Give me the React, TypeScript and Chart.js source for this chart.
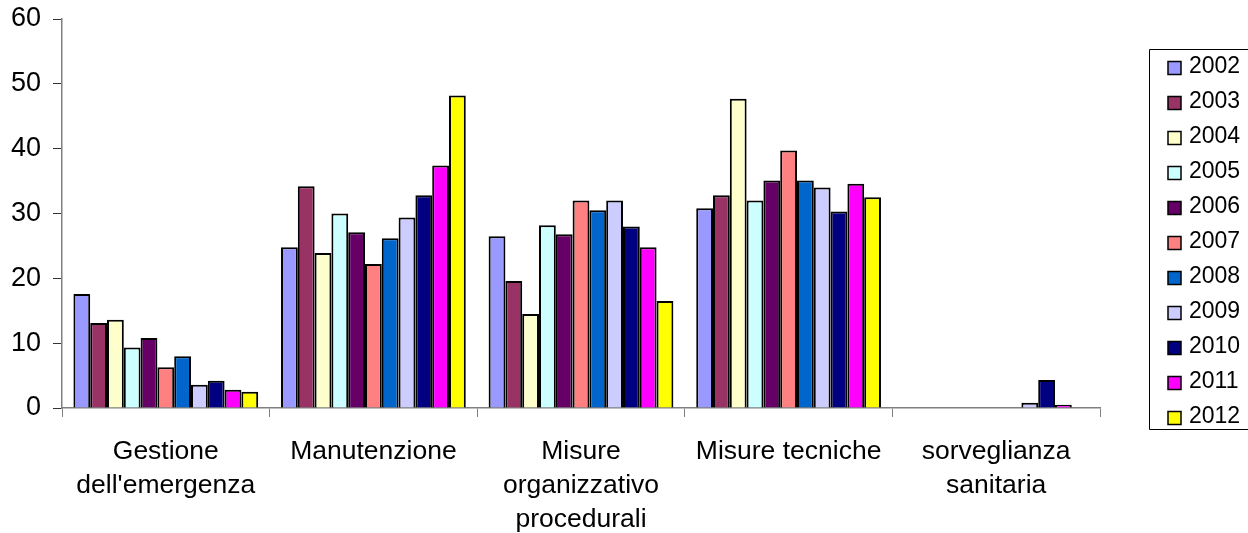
import React, { useEffect, useRef } from "react";
import { Chart, registerables } from "chart.js";

Chart.register(...registerables);

const categories: (string | string[])[] = [
  ["Gestione", "dell'emergenza"],
  "Manutenzione",
  ["Misure", "organizzativo", "procedurali"],
  "Misure tecniche",
  ["sorveglianza", "sanitaria"],
];

const years = ["2002", "2003", "2004", "2005", "2006", "2007", "2008", "2009", "2010", "2011", "2012"];

const v2002 = [17.6, 24.8, 26.5, 30.8, 0];
const v2003 = [13.1, 34.2, 19.6, 32.8, 0];
const v2004 = [13.6, 23.9, 14.5, 47.7, 0];
const v2005 = [9.35, 30.0, 28.2, 32.0, 0];
const v2006 = [10.8, 27.1, 26.8, 35.1, 0];
const v2007 = [6.3, 22.2, 32.0, 39.7, 0];
const v2008 = [8.0, 26.2, 30.5, 35.1, 0];
const v2009 = [3.6, 29.4, 32.0, 34.0, 0.8];
const v2010 = [4.2, 32.8, 28.0, 30.3, 4.3];
const v2011 = [2.8, 37.4, 24.8, 34.6, 0.5];
const v2012 = [2.5, 48.2, 16.5, 32.5, 0];

const seriesValues = [v2002, v2003, v2004, v2005, v2006, v2007, v2008, v2009, v2010, v2011, v2012];

const colors = [
  "#9999FF", "#993366", "#FFFFCC", "#CCFFFF", "#660066", "#FF8080",
  "#0066CC", "#CCCCFF", "#000080", "#FF00FF", "#FFFF00",
];

const yTicks = [0, 10, 20, 30, 40, 50, 60];

const FONT = "'Liberation Sans', Arial, sans-serif";

const boxedLegend = {
  id: "boxedLegend",
  afterDraw(chart: any) {
    const { ctx, chartArea } = chart;
    const left = chartArea.right + 49.5;
    const top = chartArea.top + 30.5;
    const bottom = top + 380;
    ctx.save();
    ctx.strokeStyle = "#000";
    ctx.lineWidth = 1;
    ctx.beginPath();
    ctx.moveTo(chart.width + 5, top);
    ctx.lineTo(left, top);
    ctx.lineTo(left, bottom);
    ctx.lineTo(chart.width + 5, bottom);
    ctx.stroke();
    ctx.font = `23px ${FONT}`;
    ctx.textBaseline = "alphabetic";
    ctx.textAlign = "left";
    chart.data.datasets.forEach((ds: any, i: number) => {
      const base = top + 23 + i * 35;
      const bx = left + 18.5;
      const by = base - 11;
      ctx.fillStyle = ds.backgroundColor;
      ctx.fillRect(bx, by, 13, 13);
      ctx.lineWidth = 1.5;
      ctx.strokeStyle = "#000";
      ctx.strokeRect(bx, by, 13, 13);
      ctx.fillStyle = "#000";
      ctx.fillText(ds.label, left + 39.5, base);
    });
    ctx.restore();
  },
};

export default function App() {
  const ref = useRef<HTMLCanvasElement | null>(null);

  useEffect(() => {
    if (!ref.current) return;
    const chart = new Chart(ref.current, {
      type: "bar",
      data: {
        labels: categories,
        datasets: years.map((y, i) => ({
          label: y,
          data: seriesValues[i],
          backgroundColor: colors[i],
          borderColor: "#000",
          borderWidth: 2,
          categoryPercentage: 0.89,
          barPercentage: 1.0,
        })),
      },
      options: {
        animation: false,
        responsive: true,
        maintainAspectRatio: false,
        layout: { padding: { top: 19, right: 148, left: 0, bottom: 0 } },
        plugins: {
          legend: { display: false },
          tooltip: { enabled: false },
        },
        scales: {
          x: {
            grid: {
              display: true,
              drawOnChartArea: false,
              drawTicks: true,
              tickLength: 9,
              color: "#808080",
              offset: true,
            },
            border: { display: true, color: "#808080", width: 1.5 },
            ticks: {
              color: "#000",
              font: { family: FONT, size: 26.5, lineHeight: 1.3 },
              padding: 17,
              maxRotation: 0,
              autoSkip: false,
            },
            afterFit: (scale: any) => {
              scale.height = 125;
              scale.paddingLeft = 0;
              scale.paddingRight = 0;
            },
          },
          y: {
            min: 0,
            max: 60,
            afterBuildTicks: (scale: any) => {
              scale.ticks = yTicks.map((v) => ({ value: v }));
            },
            grid: {
              display: true,
              drawOnChartArea: false,
              drawTicks: true,
              tickLength: 9,
              color: "#333",
            },
            border: { display: true, color: "#808080", width: 1.5 },
            ticks: {
              color: "#000",
              font: { family: FONT, size: 27 },
              padding: 12,
            },
            afterFit: (scale: any) => {
              scale.width = 62;
              scale.paddingTop = 0;
              scale.paddingBottom = 0;
            },
          },
        },
      },
      plugins: [boxedLegend],
    });
    return () => chart.destroy();
  }, []);

  return (
    <div style={{ position: "absolute", left: 0, top: 0, width: 1248, height: 533, background: "#fff" }}>
      <canvas ref={ref} />
    </div>
  );
}
